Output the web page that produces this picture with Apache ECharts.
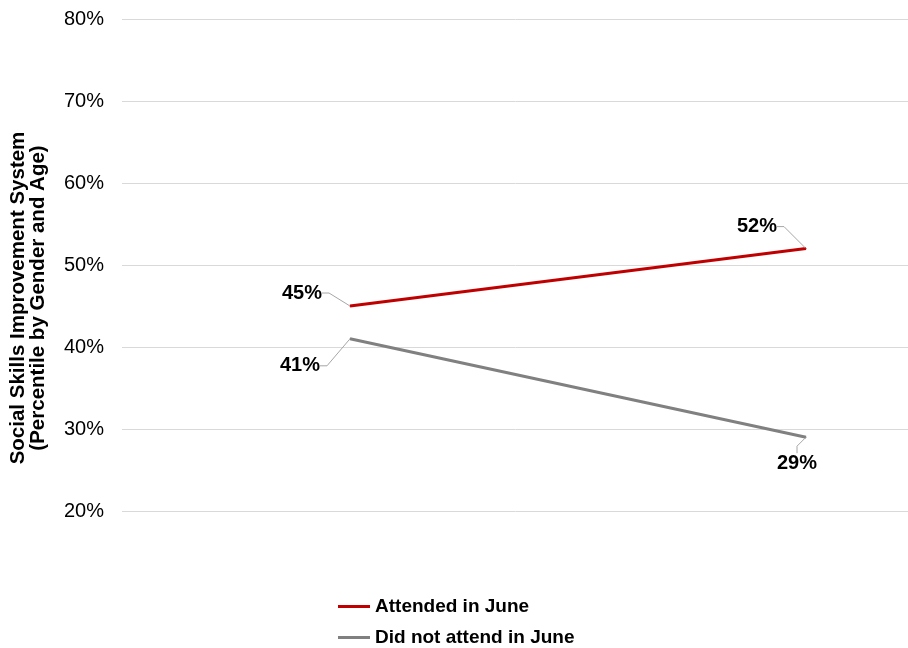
<!DOCTYPE html>
<html>
<head>
<meta charset="utf-8">
<script src="https://cdn.jsdelivr.net/npm/echarts@6/dist/echarts.min.js"></script>
<style>html,body{margin:0;padding:0;background:#fff}#c{width:908px;height:648px}</style>
</head>
<body>
<div id="c"></div>
<script>
var categories = ['Before', 'After'];
var attended = [45, 52];
var notAttended = [41, 29];
var yTicks = [20, 30, 40, 50, 60, 70, 80];
var seriesNames = ['Attended in June', 'Did not attend in June'];
// label offsets relative to the point (dx, dy)
var offsetsAttended = [[-48, -13], [-49, -22]];
var offsetsNot = [[-50, 27], [-9, 26]];

var chart = echarts.init(document.getElementById('c'));
var font = 'Liberation Sans, Arial, sans-serif';
function mkSeries(name, data, color, offs) {
  return {
    name: name,
    type: 'line',
    data: data,
    symbol: 'circle',
    symbolSize: 1,
    showSymbol: true,
    lineStyle: { color: color, width: 3 },
    itemStyle: { color: color },
    label: {
      show: true,
      position: 'inside',
      formatter: function (p) { return p.value + '%'; },
      fontFamily: font,
      fontWeight: 'bold',
      fontSize: 20,
      color: '#000',
      padding: [2, 5, 2, 5]
    },
    labelLine: { show: true, length2: 7, lineStyle: { color: '#a6a6a6', width: 1 } },
    labelLayout: function (p) {
      var o = offs[p.dataIndex];
      return { dx: o[0], dy: o[1] };
    },
    emphasis: { disabled: true },
    animation: false
  };
}
chart.setOption({
  animation: false,
  grid: { left: 122, right: -126, top: 19, bottom: 137, outerBoundsMode: 'none', containLabel: false },
  legend: {
    orient: 'vertical',
    left: 338,
    top: 597,
    padding: 0,
    icon: 'rect',
    itemWidth: 32,
    itemHeight: 3,
    itemGap: 12,
    textStyle: { fontFamily: font, fontWeight: 'bold', fontSize: 19, color: '#000', padding: [0, 0, 0, 0] },
    data: seriesNames
  },
  xAxis: {
    type: 'category',
    data: categories,
    boundaryGap: true,
    show: false
  },
  yAxis: {
    type: 'value',
    min: yTicks[0],
    max: yTicks[yTicks.length - 1],
    interval: 10,
    name: 'Social Skills Improvement System\n(Percentile by Gender and Age)',
    nameLocation: 'middle',
    nameGap: 74,
    nameTextStyle: { fontFamily: font, fontWeight: 'bold', fontSize: 20.5, color: '#000', lineHeight: 20, padding: [0, 66, 0, 0] },
    axisLine: { show: false },
    axisTick: { show: false },
    axisLabel: { formatter: '{value}%', fontFamily: font, fontSize: 20, color: '#000', margin: 18 },
    splitLine: { lineStyle: { color: '#d9d9d9', width: 1 } }
  },
  series: [
    mkSeries(seriesNames[0], attended, '#c00000', offsetsAttended),
    mkSeries(seriesNames[1], notAttended, '#808080', offsetsNot)
  ]
});
</script>
</body>
</html>
